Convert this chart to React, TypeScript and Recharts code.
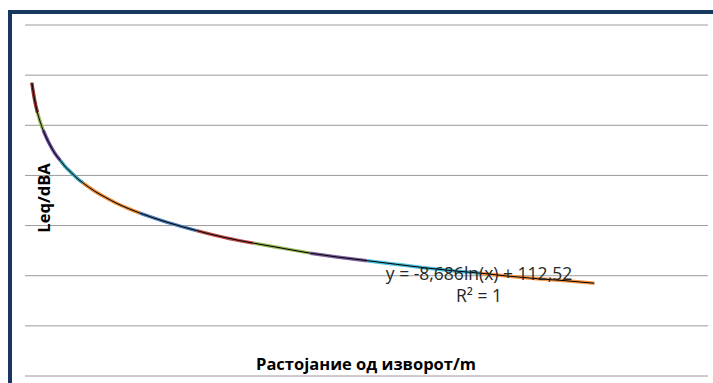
import { CartesianGrid, ComposedChart, Line, XAxis, YAxis } from "recharts";

const distances = [1, 1.5, 2, 2.5, 3, 4, 5, 6, 7, 8, 9, 10, 12, 14, 16, 18, 20, 25, 30, 35, 40, 45, 50, 55, 60, 65, 70, 75, 80, 85, 90, 95, 100];
const levels = [112.5, 109.0, 106.5, 104.6, 103.0, 100.5, 98.5, 97.0, 95.6, 94.5, 93.4, 92.5, 90.9, 89.6, 88.4, 87.4, 86.5, 84.6, 83.0, 81.6, 80.5, 79.5, 78.5, 77.7, 77.0, 76.3, 75.6, 75.0, 74.5, 73.9, 73.4, 73.0, 72.5];

// each measurement run covers one stretch of distances
const segmentBreaks = [1, 2, 3, 6, 10, 20, 30, 40, 50, 60, 80, 100];
const segmentColors = ["#953735", "#9BBB59", "#6B4F96", "#3FA3B8", "#E68A34", "#4F81BD", "#C0504D", "#9BBB59", "#8064A2", "#4BBFDC", "#F79646"];

const yTicks = [54, 64, 74, 84, 94, 104, 114, 124];

const trendText = "y = -8,686ln(x) + 112,52";
const r2Text = "R² = 1";
const xTitle = "Растојание од изворот/m";
const yTitle = "Leq/dBA";

const allPoints = distances.map((d, i) => ({ distance: d, level: levels[i] }));
const segments = segmentColors.map((color, i) => ({
	color,
	points: allPoints.filter((p) => p.distance >= segmentBreaks[i] && p.distance <= segmentBreaks[i + 1]),
}));

const font = "'Open Sans', 'Liberation Sans', sans-serif";

export default function App() {
	return (
		<div style={{ position: "fixed", left: 0, top: 0, width: 713, height: 383, background: "#fff", overflow: "hidden" }}>
			<div
				style={{
					position: "absolute",
					left: 8,
					top: 10,
					width: 705,
					height: 373,
					boxSizing: "border-box",
					borderTop: "4px solid #17375E",
					borderLeft: "4px solid #17375E",
				}}
			/>
			<div style={{ position: "absolute", left: 0, top: 0 }}>
				<ComposedChart width={713} height={383} margin={{ top: 25, right: 5, bottom: 7, left: 25 }}>
					<CartesianGrid vertical={false} stroke="#9A9A9A" />
					<XAxis type="number" dataKey="distance" domain={[-0.2, 120]} hide allowDataOverflow />
					<YAxis type="number" domain={[54, 124]} ticks={yTicks} hide allowDataOverflow />
					{segments.map((s, i) => (
						<Line
							key={i}
							data={s.points}
							dataKey="level"
							type="monotone"
							stroke={s.color}
							strokeWidth={3.5}
							dot={false}
							activeDot={false}
							isAnimationActive={false}
						/>
					))}
					<Line
						data={allPoints}
						dataKey="level"
						type="monotone"
						stroke="#000"
						strokeWidth={1}
						dot={false}
						activeDot={false}
						isAnimationActive={false}
					/>
				</ComposedChart>
			</div>
			<div
				style={{
					position: "absolute",
					left: 43,
					top: 198,
					transform: "translate(-50%, -50%) rotate(-90deg)",
					fontFamily: font,
					fontWeight: 700,
					fontSize: 16.5,
					whiteSpace: "nowrap",
				}}
			>
				{yTitle}
			</div>
			<div
				style={{
					position: "absolute",
					left: 366,
					top: 363,
					transform: "translate(-50%, -50%)",
					fontFamily: font,
					fontWeight: 700,
					fontSize: 16.5,
					whiteSpace: "nowrap",
				}}
			>
				{xTitle}
			</div>
			<div
				style={{
					position: "absolute",
					left: 479,
					top: 273,
					transform: "translate(-50%, -50%)",
					fontFamily: font,
					fontSize: 17.5,
					color: "#262626",
					whiteSpace: "nowrap",
				}}
			>
				{trendText}
			</div>
			<div
				style={{
					position: "absolute",
					left: 479,
					top: 295,
					transform: "translate(-50%, -50%)",
					fontFamily: font,
					fontSize: 17.5,
					color: "#262626",
					whiteSpace: "nowrap",
				}}
			>
				{r2Text}
			</div>
		</div>
	);
}
